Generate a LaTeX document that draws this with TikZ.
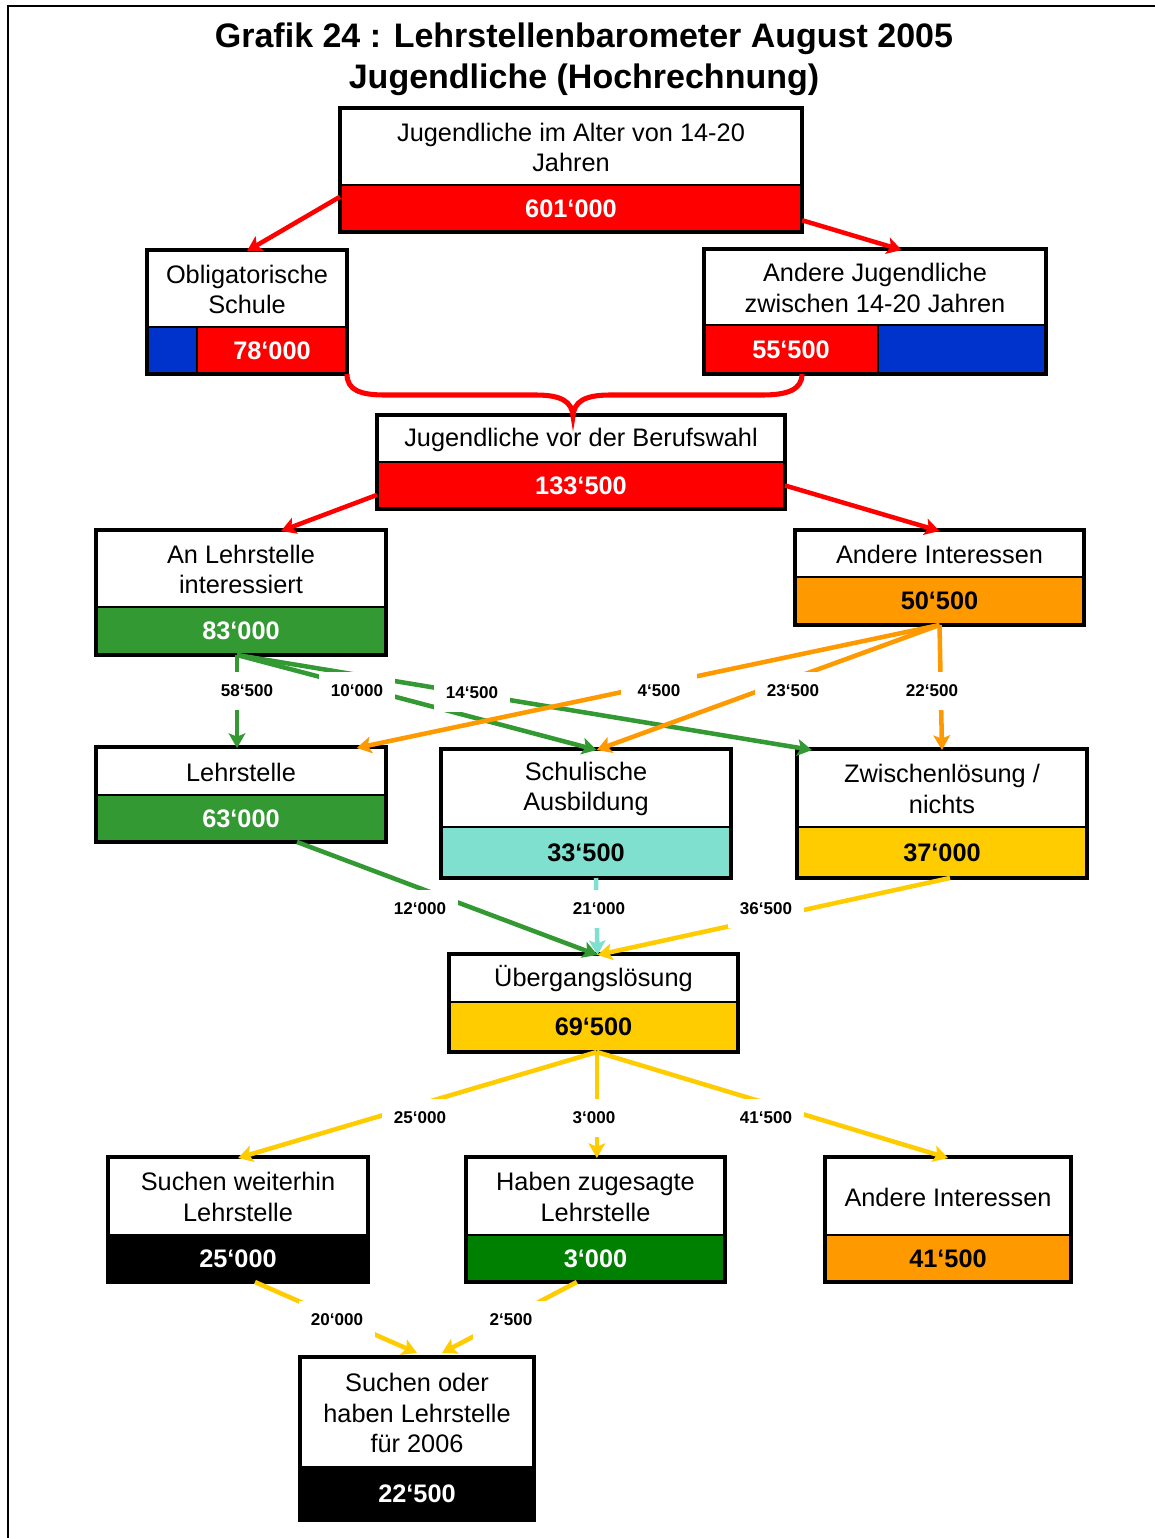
\documentclass[tikz,border=0pt]{standalone}
\usepackage{fontspec}
\setmainfont{Liberation Sans}
\usetikzlibrary{arrows.meta,calc}

\definecolor{barred}{HTML}{FF0000}
\definecolor{barblue}{HTML}{0033CC}
\definecolor{bargreen}{HTML}{339933}
\definecolor{barorange}{HTML}{FF9900}
\definecolor{barturq}{HTML}{80E0D0}
\definecolor{baryellow}{HTML}{FFCC00}
\definecolor{bardkgreen}{HTML}{008000}

\tikzset{
  headcell/.style={rectangle, inner sep=0pt, outer sep=0pt, fill=white, align=center,
    font=\fontsize{19}{23}\selectfont},
  valcell/.style={rectangle, inner sep=0pt, outer sep=0pt,
    font=\fontsize{19}{23}\selectfont\bfseries},
  onred/.style={fill=barred, text=white},
  ongreen/.style={fill=bargreen, text=white},
  ondkgreen/.style={fill=bardkgreen, text=white},
  onblack/.style={fill=black, text=white},
  onorange/.style={fill=barorange, text=black},
  onturq/.style={fill=barturq, text=black},
  onyellow/.style={fill=baryellow, text=black},
  frameline/.style={line width=3.3pt, draw=black, line join=miter},
  divline/.style={line width=1.5pt, draw=black},
  flow/.style={line width=3.4pt, -{Stealth[length=11pt,width=12.5pt,inset=2.5pt]}},
  flowlabel/.style={rectangle, fill=white, inner sep=0pt, minimum width=57pt,
    minimum height=28pt, font=\fontsize{12.8}{14}\selectfont\bfseries},
}

% one box: header cell with text, coloured value bar below
% #1 name, #2 left, #3 top, #4 right, #5 bar top, #6 bottom, #7 text, #8 bar style, #9 value
\newcommand\chartbox[9]{%
  \node[headcell, minimum width={(#4-#2)*0.75pt}, minimum height={(#5-#3)*0.75pt}]
    (#1) at ({(#2+#4)/2},{(#3+#5)/2+1}) {#7};
  \node[valcell, #8, minimum width={(#4-#2)*0.75pt}, minimum height={(#6-#5)*0.75pt}]
    (#1v) at ({(#2+#4)/2},{(#5+#6)/2}) {#9};
}
\newcommand\outlinebox[1]{%
  \draw[divline] (#1v.north west) -- (#1v.north east);
  \draw[frameline] ([yshift=0.75pt]#1.north west) rectangle (#1v.south east);
}

\begin{document}
\begin{tikzpicture}[x=0.75pt,y=-0.75pt]
\useasboundingbox (0,0) rectangle (1155,1538);
\fill[white] (0,0) rectangle (1155,1538);

% page frame
\draw[line width=1.5pt] (8,1538) -- (8,6) -- (1155,6);

% heading
\node[font=\fontsize{25.5}{30.75}\selectfont\bfseries, align=center] (title) at (584,59)
  {Grafik 24 : Lehrstellenbarometer August 2005\\Jugendliche (Hochrechnung)};

% boxes
\chartbox{A}{340}{108}{802}{185}{232}{Jugendliche im Alter von 14-20\\Jahren}{onred}{601‘000}
\outlinebox{A}

\chartbox{B}{147}{250}{347}{327}{374}{Obligatorische\\Schule}{onred}{\hspace*{37.5pt}78‘000}
\fill[barblue] (Bv.north west) rectangle ([xshift=37.5pt]Bv.south west);
\draw[divline] ([xshift=37.5pt]Bv.north west) -- ([xshift=37.5pt]Bv.south west);
\outlinebox{B}

\chartbox{C}{704}{249}{1046}{325}{374}{Andere Jugendliche\\zwischen 14-20 Jahren}{onred}{55‘500\hspace*{126pt}}
\fill[barblue] ([xshift=130.5pt]Cv.south west) rectangle (Cv.north east);
\draw[divline] ([xshift=130.5pt]Cv.north west) -- ([xshift=130.5pt]Cv.south west);
\outlinebox{C}

\chartbox{D}{377}{415}{785}{462}{509}{Jugendliche vor der Berufswahl}{onred}{133‘500}
\outlinebox{D}

\chartbox{E}{96}{530}{386}{607}{655}{An Lehrstelle\\interessiert}{ongreen}{83‘000}
\outlinebox{E}

\chartbox{F}{795}{530}{1084}{577}{625}{Andere Interessen}{onorange}{50‘500}
\outlinebox{F}

\chartbox{G}{96}{747}{386}{795}{842}{Lehrstelle}{ongreen}{63‘000}
\outlinebox{G}

\chartbox{H}{441}{749}{731}{827}{878}{Schulische\\Ausbildung}{onturq}{33‘500}
\outlinebox{H}

\chartbox{I}{797}{749}{1087}{827}{878}{Zwischenlösung /\\nichts}{onyellow}{37‘000}
\outlinebox{I}

\chartbox{J}{449}{954}{738}{1002}{1052}{Übergangslösung}{onyellow}{69‘500}
\outlinebox{J}

\chartbox{K}{108}{1157}{368}{1235}{1282}{Suchen weiterhin\\Lehrstelle}{onblack}{25‘000}
\outlinebox{K}

\chartbox{L}{466}{1157}{725}{1235}{1282}{Haben zugesagte\\Lehrstelle}{ondkgreen}{3‘000}
\outlinebox{L}

\chartbox{M}{825}{1157}{1071}{1235}{1282}{Andere Interessen}{onorange}{41‘500}
\outlinebox{M}

\chartbox{N}{300}{1357}{534}{1467}{1520}{Suchen oder\\haben Lehrstelle\\für 2006}{onblack}{22‘500}
\outlinebox{N}

% first split
\draw[flow, barred] ($(Av.north west)!0.25!(Av.south west)$) -- (B.north);
\draw[flow, barred] ($(Av.north east)!0.75!(Av.south east)$) -- ([xshift=20pt]C.north);

% brace joining both groups
\draw[barred, line width=3.8pt, line cap=butt]
  (Bv.south east) .. controls (347,390) and (360,395) .. (385,395) -- (536,395)
  .. controls (562,395) and (572,402) .. ([xshift=-6pt]D.north)
  .. controls (574,402) and (584,395) .. (610,395) -- (762,395)
  .. controls (787,395) and (802,390) .. ([xshift=73.5pt]Cv.south west);

\draw[flow, barred] ($(Dv.north west)!0.7!(Dv.south west)$) -- ([xshift=30pt]E.north);
\draw[flow, barred] ($(Dv.north east)!0.5!(Dv.south east)$) -- (F.north);

% from the interested group
\coordinate (Eout) at ([xshift=-3pt]Ev.south);
\draw[flow, bargreen] (Eout) -- ([xshift=-3pt]G.north);
\draw[flow, bargreen] (Eout) -- ([xshift=8pt]H.north);
\draw[flow, bargreen] (Eout) -- ([xshift=-97.5pt]I.north);

% from the other interests
\draw[flow, barorange] (Fv.south) -- ([xshift=-22pt]G.north east);
\draw[flow, barorange] (Fv.south) -- ([xshift=8pt]H.north);
\draw[flow, barorange] (Fv.south) -- (I.north);

% into the transition solution
\draw[flow, bargreen] ([xshift=42pt]Gv.south) -- ([xshift=3pt]J.north);
\draw[flow, barturq] ([xshift=7.5pt]Hv.south) -- ([xshift=3pt]J.north);
\draw[flow, baryellow] ([xshift=6pt]Iv.south) -- ([xshift=3pt]J.north);

% out of the transition solution
\draw[flow, baryellow] ([xshift=2.5pt]Jv.south) -- (K.north);
\draw[flow, baryellow] ([xshift=2.5pt]Jv.south) -- ([xshift=1pt]L.north);
\draw[flow, baryellow] ([xshift=2.5pt]Jv.south) -- (M.north);

% towards 2006
\draw[flow, baryellow] ([xshift=12.75pt]Kv.south) -- ([yshift=3.75pt]N.north);
\draw[flow, baryellow] ([xshift=-14pt]Lv.south) -- ([xshift=18.75pt,yshift=3.75pt]N.north);

% flow values
\node[flowlabel] (l1) at (247,691) {58‘500};
\node[flowlabel] (l2) at (357,691) {10‘000};
\node[flowlabel] (l3) at (472,693) {14‘500};
\node[flowlabel] (l4) at (659,691) {4‘500};
\node[flowlabel] (l5) at (793,691) {23‘500};
\node[flowlabel] (l6) at (932,691) {22‘500};
\node[flowlabel] (l7) at (420,909) {12‘000};
\node[flowlabel] (l8) at (599,909) {21‘000};
\node[flowlabel] (l9) at (766,909) {36‘500};
\node[flowlabel] (l10) at (420,1118) {25‘000};
\node[flowlabel] (l11) at (594,1118) {3‘000};
\node[flowlabel] (l12) at (766,1118) {41‘500};
\node[flowlabel] (l13) at (337,1320) {20‘000};
\node[flowlabel] (l14) at (511,1320) {2‘500};
\end{tikzpicture}
\end{document}
